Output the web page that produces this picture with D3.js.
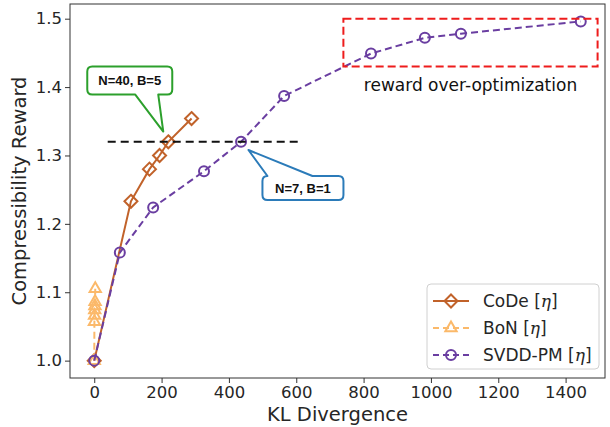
<!DOCTYPE html>
<html>
<head>
<meta charset="utf-8">
<script src="https://cdn.jsdelivr.net/npm/d3@7"></script>
<style>
  body { margin: 0; background: #fff; }
  svg { font-family: "DejaVu Sans", sans-serif; }
</style>
</head>
<body>
<div id="chart"></div>
<script>
// values
var codeKL = [0, 109, 164, 194, 220, 289];
var codeReward = [1.0, 1.233, 1.280, 1.300, 1.320, 1.354];

var bonKL = [0, 0.5, 1, 1.5, 2, 2.5, 3];
var bonReward = [1.0, 1.057, 1.066, 1.074, 1.080, 1.086, 1.105];

var svddKL = [0, 76, 175, 326, 436, 564, 822, 982, 1089, 1445];
var svddReward = [1.0, 1.158, 1.224, 1.277, 1.320, 1.387, 1.449, 1.472, 1.478, 1.496];

var xTicks = [0, 200, 400, 600, 800, 1000, 1200, 1400];
var yTicks = [1.0, 1.1, 1.2, 1.3, 1.4, 1.5];

var refLineKL = [40, 605], refLineReward = 1.32;
var boxKL = [740, 1495], boxReward = [1.43, 1.50];

var width = 610, height = 427;
var margin = {left: 70, right: 5, top: 4, bottom: 49};

var svg = d3.select("#chart").append("svg")
  .attr("width", width).attr("height", height);

var x = d3.scaleLinear().domain([-72, 1517]).range([margin.left, width - margin.right]);
var y = d3.scaleLinear().domain([0.9746, 1.5215]).range([height - margin.bottom, margin.top]);

var textCol = "#262626";

// axes
var xAxis = svg.append("g")
  .attr("transform", "translate(0," + (height - margin.bottom) + ")")
  .call(d3.axisBottom(x).tickValues(xTicks).tickSize(5).tickPadding(3).tickFormat(d3.format("d")));
var yAxis = svg.append("g")
  .attr("transform", "translate(" + margin.left + ",0)")
  .call(d3.axisLeft(y).tickValues(yTicks).tickSize(5).tickPadding(3).tickFormat(d3.format(".1f")));
[xAxis, yAxis].forEach(function(a){
  a.select(".domain").remove()
  a.selectAll("line").attr("stroke", "#333").attr("stroke-width", 1)
  a.selectAll("text").attr("fill", textCol).style("font-size", "16.5px").style("font-family", "DejaVu Sans")
})

// frame
svg.append("rect")
  .attr("x", margin.left).attr("y", margin.top)
  .attr("width", width - margin.left - margin.right)
  .attr("height", height - margin.top - margin.bottom)
  .attr("fill", "none").attr("stroke", "#333").attr("stroke-width", 1);

svg.append("text")
  .attr("x", x(-72) + (x(1517) - x(-72)) / 2).attr("y", 421)
  .attr("text-anchor", "middle").attr("fill", textCol)
  .style("font-size", "19.5px").text("KL Divergence");

svg.append("text")
  .attr("transform", "translate(26," + ((y(0.9746) + y(1.5215)) / 2) + ") rotate(-90)")
  .attr("text-anchor", "middle").attr("fill", textCol)
  .style("font-size", "19.5px").text("Compressibility Reward");

var codeCol = "#c1622a", bonCol = "#fbb96a", svddCol = "#6a3ea1";

function diamondPath(s){ return "M0," + (-s) + "L" + s + ",0L0," + s + "L" + (-s) + ",0Z"; }
function triPath(s){ return "M0," + (-s) + "L" + (s * 0.87) + "," + (s * 0.5) + "L" + (-s * 0.87) + "," + (s * 0.5) + "Z"; }

function drawSeries(kl, rew, col, dash, shape){
  var pts = kl.map(function(d, i){ return [d, rew[i]]; });
  var line = d3.line().x(function(d){ return x(d[0]); }).y(function(d){ return y(d[1]); });
  svg.append("path").datum(pts)
    .attr("d", line).attr("fill", "none").attr("stroke", col)
    .attr("stroke-width", 2).attr("stroke-dasharray", dash);
  var g = svg.append("g");
  pts.forEach(function(p){
    if (shape === "circle") {
      g.append("circle").attr("cx", x(p[0])).attr("cy", y(p[1])).attr("r", 5)
        .attr("fill", "none").attr("stroke", col).attr("stroke-width", 2);
    } else {
      g.append("path").attr("d", shape === "diamond" ? diamondPath(6.5) : triPath(6.5))
        .attr("transform", "translate(" + x(p[0]) + "," + y(p[1]) + ")")
        .attr("fill", "none").attr("stroke", col).attr("stroke-width", 2);
    }
  });
}

drawSeries(codeKL, codeReward, codeCol, null, "diamond");
drawSeries(bonKL, bonReward, bonCol, "7,4", "triangle");
drawSeries(svddKL, svddReward, svddCol, "7,4", "circle");

// horizontal reference line
svg.append("line")
  .attr("x1", x(refLineKL[0])).attr("x2", x(refLineKL[1]))
  .attr("y1", y(refLineReward)).attr("y2", y(refLineReward))
  .attr("stroke", "#111").attr("stroke-width", 2).attr("stroke-dasharray", "8,5");

// over-optimization box
svg.append("rect")
  .attr("x", x(boxKL[0])).attr("y", y(boxReward[1]))
  .attr("width", x(boxKL[1]) - x(boxKL[0]))
  .attr("height", y(boxReward[0]) - y(boxReward[1]))
  .attr("fill", "none").attr("stroke", "#ee1c1c").attr("stroke-width", 2)
  .attr("stroke-dasharray", "8,4");
svg.append("text")
  .attr("x", (x(boxKL[0]) + x(boxKL[1])) / 2).attr("y", y(boxReward[0]) + 24)
  .attr("text-anchor", "middle").attr("fill", "#111")
  .style("font-size", "17px").text("reward over-optimization");

// callouts
function callout(tipKL, tipR, dx, dy, w, h, base, col, label, onTop){
  var tx = x(tipKL), ty = y(tipR);
  var x0 = tx + dx, y0 = ty + dy, x1 = x0 + w, y1 = y0 + h, r = 5;
  var p;
  if (!onTop) {
    p = "M" + (x0 + r) + "," + y0 + "H" + (x1 - r) + "Q" + x1 + "," + y0 + " " + x1 + "," + (y0 + r) +
        "V" + (y1 - r) + "Q" + x1 + "," + y1 + " " + (x1 - r) + "," + y1 +
        "H" + (x0 + base[1]) + "L" + tx + "," + ty + "L" + (x0 + base[0]) + "," + y1 +
        "H" + (x0 + r) + "Q" + x0 + "," + y1 + " " + x0 + "," + (y1 - r) +
        "V" + (y0 + r) + "Q" + x0 + "," + y0 + " " + (x0 + r) + "," + y0 + "Z";
  } else {
    p = "M" + x0 + "," + (y0 + r) + "Q" + x0 + "," + y0 + " " + (x0 + base[0]) + "," + y0 +
        "L" + tx + "," + ty + "L" + (x0 + base[1]) + "," + y0 +
        "H" + (x1 - r) + "Q" + x1 + "," + y0 + " " + x1 + "," + (y0 + r) +
        "V" + (y1 - r) + "Q" + x1 + "," + y1 + " " + (x1 - r) + "," + y1 +
        "H" + (x0 + r) + "Q" + x0 + "," + y1 + " " + x0 + "," + (y1 - r) + "Z";
  }
  svg.append("path").attr("d", p).attr("fill", "#fff").attr("stroke", col)
    .attr("stroke-width", 2).attr("stroke-linejoin", "round");
  svg.append("text").attr("x", (x0 + x1) / 2).attr("y", (y0 + y1) / 2 + 4.5)
    .attr("text-anchor", "middle").attr("fill", "#111")
    .style("font-family", "'Liberation Sans', Arial, sans-serif")
    .style("font-size", "13px").style("font-weight", "bold").text(label);
}
callout(205, 1.335, -76, -65, 85, 28, [48, 71], "#2ca02c", "N=40, B=5", false);
callout(458, 1.308, 14, 26, 81, 24, [5, 50], "#2b7bb9", "N=7, B=1", true);

// legend
var lg = svg.append("g");
lg.append("rect").attr("x", 427).attr("y", 284).attr("width", 172).attr("height", 85)
  .attr("rx", 4).attr("fill", "#fff").attr("fill-opacity", 0.85)
  .attr("stroke", "#d0d0d0").attr("stroke-width", 1);
var legendItems = [
  {name: "CoDe", col: codeCol, dash: null, shape: "diamond"},
  {name: "BoN", col: bonCol, dash: "6,4", shape: "triangle"},
  {name: "SVDD-PM", col: svddCol, dash: "6,4", shape: "circle"}
];
legendItems.forEach(function(d, i){
  var ly = 301 + i * 27;
  lg.append("line").attr("x1", 433).attr("x2", 469).attr("y1", ly).attr("y2", ly)
    .attr("stroke", d.col).attr("stroke-width", 2).attr("stroke-dasharray", d.dash);
  if (d.shape === "circle") {
    lg.append("circle").attr("cx", 451).attr("cy", ly).attr("r", 5)
      .attr("fill", "none").attr("stroke", d.col).attr("stroke-width", 2);
  } else {
    lg.append("path").attr("d", d.shape === "diamond" ? diamondPath(6.5) : triPath(6.5))
      .attr("transform", "translate(451," + ly + ")")
      .attr("fill", "none").attr("stroke", d.col).attr("stroke-width", 2);
  }
  var t = lg.append("text").attr("x", 483).attr("y", ly + 6).attr("fill", textCol)
    .style("font-size", "17px");
  t.append("tspan").text(d.name + " [");
  t.append("tspan").style("font-style", "italic").style("font-family", "DejaVu Serif").text("η");
  t.append("tspan").text("]");
});
</script>
</body>
</html>
